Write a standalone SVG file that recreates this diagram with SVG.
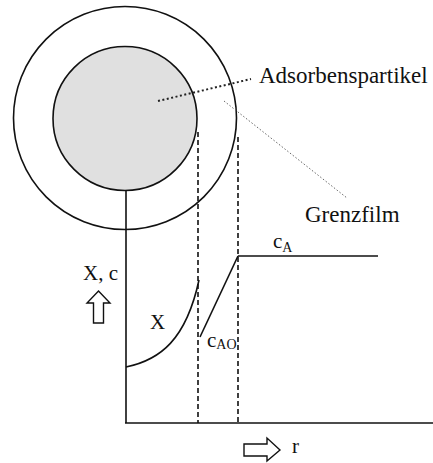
<svg xmlns="http://www.w3.org/2000/svg" width="433" height="463" viewBox="0 0 433 463">
<style>
.ln{fill:none;stroke:#111;stroke-width:1.6}
.dash{fill:none;stroke:#111;stroke-width:1.6;stroke-dasharray:5,3}
.t{font-family:"Liberation Serif","Times New Roman",serif;fill:#111}
.arr{fill:#fff;stroke:#111;stroke-width:1.4;stroke-linejoin:miter}
</style>
<rect width="433" height="463" fill="#fff"/>
<g id="particle">
<circle cx="125" cy="118" r="111.5" class="ln"/>
<circle cx="125" cy="118.5" r="72" fill="#e0e0e0" stroke="#111" stroke-width="1.6"/>
</g>
<g id="connectors">
<line x1="158" y1="101" x2="251" y2="79" stroke="#222" stroke-width="2" stroke-dasharray="2,2.5"/>
<line x1="224" y1="101" x2="347" y2="198" stroke="#666" stroke-width="1" stroke-dasharray="1.5,2"/>
<line x1="126" y1="190" x2="126" y2="423" class="ln"/>
<line x1="125" y1="423" x2="433" y2="423" class="ln"/>
<line x1="198" y1="132" x2="198" y2="423" class="dash"/>
<line x1="238" y1="137" x2="238" y2="423" class="dash"/>
<path d="M126,367 C160,360 186,340 199,280" class="ln"/>
<line x1="200" y1="337" x2="238" y2="256" class="ln"/>
<line x1="238" y1="256" x2="378" y2="256" class="ln"/>
</g>
<g id="label-adsorbens"><text class="t" x="259" y="83" font-size="23">Adsorbenspartikel</text></g>
<g id="label-grenzfilm"><text class="t" x="305" y="222" font-size="23">Grenzfilm</text></g>
<g id="label-xc"><text class="t" x="83" y="280" font-size="21">X, c</text></g>
<g id="arrow-up"><path class="arr" d="M98.5,291 L110,303 L103.5,303 L103.5,323 L93.5,323 L93.5,303 L87,303 Z"/></g>
<g id="arrow-right"><path class="arr" d="M280,450 L267,438 L267,444 L244,444 L244,456 L267,456 L267,461 Z"/></g>
<g id="label-r"><text class="t" x="292" y="453" font-size="21">r</text></g>
<g id="label-x"><text class="t" x="150" y="329" font-size="21">X</text></g>
<g id="label-cao"><text class="t" x="207" y="347" font-size="21">c<tspan font-size="14" dy="2">AO</tspan></text></g>
<g id="label-ca"><text class="t" x="273" y="248" font-size="21">c<tspan font-size="14" dy="4">A</tspan></text></g>
</svg>
